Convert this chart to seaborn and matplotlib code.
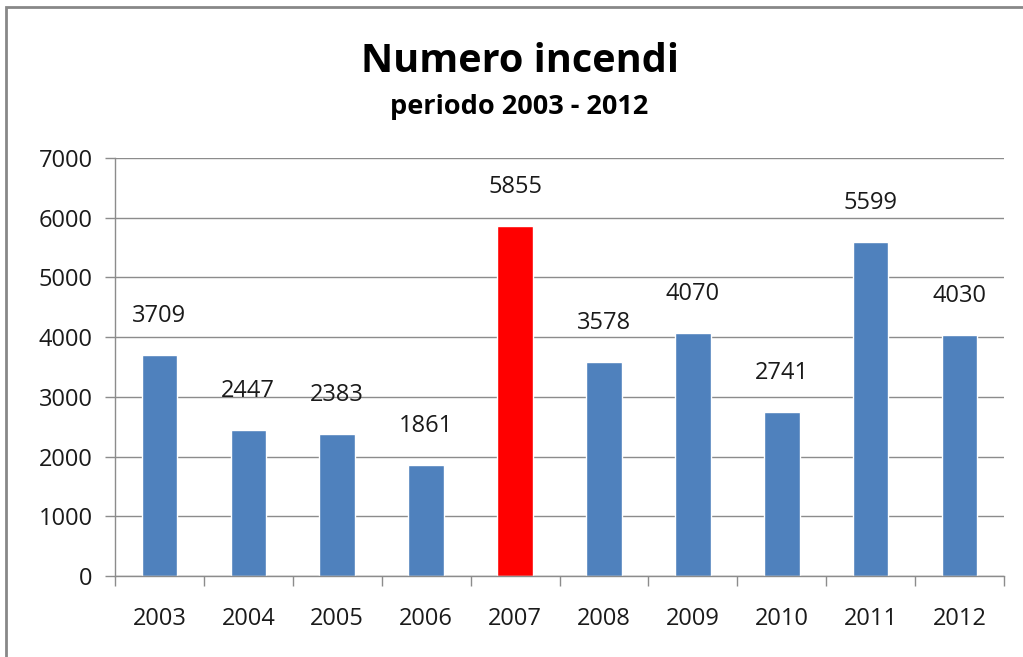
import matplotlib
matplotlib.use('Agg')
import matplotlib.pyplot as plt
import seaborn as sns
import pandas as pd
from matplotlib.patches import Rectangle

# data
years = ['2003', '2004', '2005', '2006', '2007', '2008', '2009', '2010', '2011', '2012']
fires = [3709, 2447, 2383, 1861, 5855, 3578, 4070, 2741, 5599, 4030]
highlight_year = '2007'

blue = '#4F81BD'
red = '#FF0000'
grid_col = '#8C8C8C'
text_col = '#1a1a1a'

df = pd.DataFrame({'anno': years, 'incendi': fires})
palette = {y: (red if y == highlight_year else blue) for y in years}

sns.set_style('white')
plt.rcParams['font.family'] = ['Open Sans', 'DejaVu Sans']

fig = plt.figure(figsize=(10.23, 6.57), dpi=100)
ax = fig.add_axes([115 / 1023, 1 - 576 / 657, 889 / 1023, 418 / 657])

sns.barplot(data=df, x='anno', y='incendi', hue='anno', palette=palette,
            width=0.4, legend=False, ax=ax, saturation=1)

ax.set_ylim(0, 7000)
ax.set_xlim(-0.5, len(years) - 0.5)
ax.set_yticks(range(0, 7001, 1000))
ax.yaxis.grid(True, color=grid_col, linewidth=1)
ax.set_axisbelow(True)
ax.set_xlabel('')
ax.set_ylabel('')

for side in ['top', 'right']:
    ax.spines[side].set_visible(False)
for side in ['left', 'bottom']:
    ax.spines[side].set_color(grid_col)
    ax.spines[side].set_linewidth(1)

# ticks between the categories on x, outward ticks on y
ax.set_xticks([i - 0.5 for i in range(len(years) + 1)], minor=True)
ax.tick_params(axis='x', which='major', length=0, pad=22, labelsize=17, labelcolor=text_col)
ax.tick_params(axis='x', which='minor', length=7, color=grid_col, width=1, direction='out')
ax.tick_params(axis='y', which='major', length=7, color=grid_col, width=1, direction='out',
               pad=9, labelsize=17, labelcolor=text_col)
ax.tick_params(bottom=True, left=True, which='both')

for i, v in enumerate(fires):
    ax.annotate(str(v), (i, v), xytext=(0, 28), textcoords='offset points',
                ha='center', va='center', fontsize=17, color=text_col)

fig.text(520 / 1023, 1 - 61 / 657, 'Numero incendi', ha='center', va='center',
         fontsize=28.5, fontweight='bold', color='black')
fig.text(519 / 1023, 1 - 107 / 657, 'periodo 2003 - 2012', ha='center', va='center',
         fontsize=19.5, fontweight='bold', color='black')

# outer chart border
fig.patches.append(Rectangle((6 / 1023, -0.1), 1.2, 1 - 7 / 657 + 0.1, transform=fig.transFigure,
                             fill=False, edgecolor='#888888', linewidth=2))

fig.savefig('out.png', dpi=100)
